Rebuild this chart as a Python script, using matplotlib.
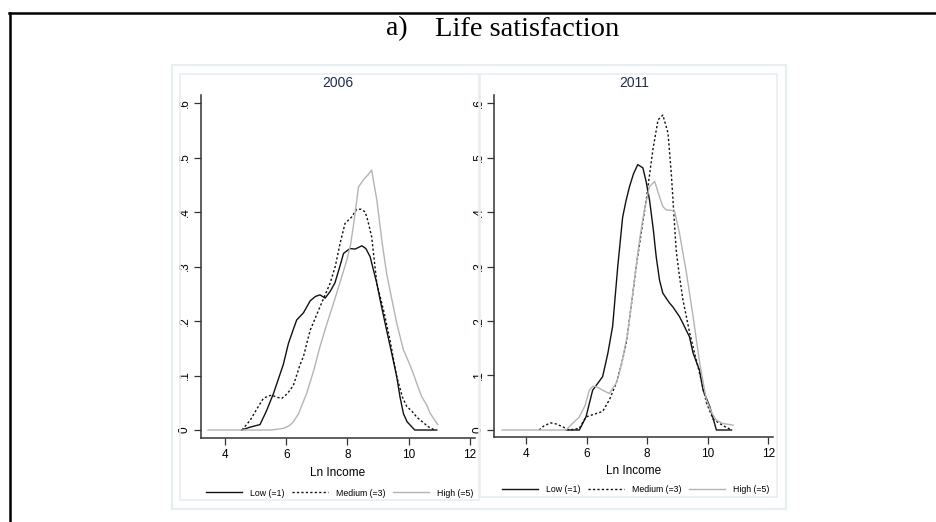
import matplotlib
matplotlib.use("Agg")
import matplotlib.pyplot as plt
from matplotlib.lines import Line2D
from matplotlib.patches import Rectangle

# ---------------- data ----------------
years = ["2006", "2011"]
series_labels = ["Low (=1)", "Medium (=3)", "High (=5)"]
x_ticks = [4, 6, 8, 10, 12]
y_ticks = [0, 0.1, 0.2, 0.3, 0.4, 0.5, 0.6]
y_ticklabels = ["0", ".1", ".2", ".3", ".4", ".5", ".6"]

x_low06 = [4.54, 4.8, 5.14, 5.35, 5.58, 5.9, 6.07, 6.23, 6.34, 6.56, 6.78, 6.95, 7.1, 7.27,
           7.43, 7.59, 7.75, 7.87, 8.08, 8.25, 8.47, 8.6, 8.74, 8.96, 9.1, 9.28, 9.45, 9.61,
           9.72, 9.83, 9.95, 10.2, 10.5, 10.92]
y_low06 = [0.0, 0.005, 0.01, 0.035, 0.067, 0.12, 0.159, 0.185, 0.202, 0.215, 0.237, 0.245,
           0.248, 0.242, 0.254, 0.27, 0.30, 0.324, 0.333, 0.332, 0.338, 0.333, 0.318, 0.269,
           0.23, 0.183, 0.14, 0.098, 0.06, 0.03, 0.015, 0.0, 0.0, 0.0]

x_med06 = [4.55, 4.82, 5.05, 5.25, 5.4, 5.52, 5.7, 5.85, 6.0, 6.12, 6.23, 6.45, 6.56, 6.78,
           7.1, 7.43, 7.6, 7.76, 7.92, 8.14, 8.3, 8.45, 8.58, 8.66, 8.79, 8.96, 9.2, 9.39,
           9.61, 9.8, 9.94, 10.1, 10.26, 10.45, 10.64, 10.85]
y_med06 = [0.0, 0.018, 0.04, 0.058, 0.062, 0.064, 0.06, 0.058, 0.065, 0.073, 0.082, 0.12,
           0.135, 0.183, 0.226, 0.269, 0.30, 0.343, 0.379, 0.391, 0.405, 0.405, 0.40, 0.385,
           0.355, 0.269, 0.215, 0.165, 0.098, 0.06, 0.043, 0.035, 0.024, 0.015, 0.006, 0.0]

x_high06 = [3.44, 4.5, 5.5, 5.9, 6.1, 6.23, 6.4, 6.67, 6.9, 7.1, 7.3, 7.54, 7.75, 7.98, 8.1,
            8.19, 8.36, 8.52, 8.65, 8.79, 8.96, 9.12, 9.28, 9.45, 9.61, 9.83, 10.0, 10.15,
            10.3, 10.43, 10.6, 10.7, 10.95]
y_high06 = [0.0, 0.0, 0.0, 0.003, 0.008, 0.015, 0.03, 0.068, 0.11, 0.153, 0.19, 0.232, 0.27,
            0.312, 0.34, 0.373, 0.446, 0.459, 0.467, 0.477, 0.422, 0.349, 0.287, 0.24, 0.196,
            0.147, 0.125, 0.104, 0.08, 0.061, 0.045, 0.031, 0.01]

x_low11 = [5.32, 5.76, 5.98, 6.2, 6.4, 6.53, 6.7, 6.86, 7.03, 7.19, 7.3, 7.42, 7.55, 7.69,
           7.86, 7.97, 8.08, 8.2, 8.3, 8.41, 8.52, 8.74, 8.85, 9.07, 9.18, 9.4, 9.52, 9.73,
           9.85, 10.07, 10.29, 10.79]
y_low11 = [0.0, 0.0, 0.024, 0.073, 0.088, 0.098, 0.14, 0.19, 0.30, 0.39, 0.42, 0.447, 0.47,
           0.487, 0.481, 0.455, 0.422, 0.37, 0.318, 0.275, 0.251, 0.233, 0.226, 0.208, 0.196,
           0.171, 0.141, 0.11, 0.073, 0.043, 0.0, 0.0]

x_med11 = [4.43, 4.6, 4.82, 5.0, 5.2, 5.43, 5.76, 5.98, 6.2, 6.53, 6.75, 6.98, 7.15, 7.31,
           7.53, 7.64, 7.8, 7.97, 8.19, 8.36, 8.52, 8.69, 8.8, 8.88, 8.96, 9.05, 9.18, 9.4,
           9.55, 9.73, 9.96, 10.18, 10.51, 10.79]
y_med11 = [0.0, 0.008, 0.013, 0.011, 0.006, 0.0, 0.003, 0.024, 0.028, 0.034, 0.055, 0.086,
           0.12, 0.159, 0.251, 0.30, 0.36, 0.422, 0.514, 0.569, 0.578, 0.545, 0.47, 0.40,
           0.33, 0.29, 0.24, 0.18, 0.145, 0.105, 0.05, 0.02, 0.008, 0.0]

x_high11 = [3.21, 4.5, 5.32, 5.5, 5.76, 5.95, 6.09, 6.2, 6.31, 6.53, 6.75, 6.98, 7.08, 7.19,
            7.36, 7.58, 7.75, 7.91, 8.08, 8.25, 8.41, 8.52, 8.63, 8.8, 8.91, 9.07, 9.3, 9.52,
            9.74, 9.96, 10.15, 10.29, 10.5, 10.84]
y_high11 = [0.0, 0.0, 0.0, 0.01, 0.024, 0.045, 0.073, 0.08, 0.08, 0.073, 0.067, 0.086, 0.104,
            0.13, 0.178, 0.275, 0.349, 0.404, 0.447, 0.456, 0.428, 0.41, 0.404, 0.403, 0.401,
            0.361, 0.288, 0.208, 0.122, 0.055, 0.03, 0.018, 0.012, 0.009]

panels = [
    (years[0], [(x_low06, y_low06), (x_med06, y_med06), (x_high06, y_high06)]),
    (years[1], [(x_low11, y_low11), (x_med11, y_med11), (x_high11, y_high11)]),
]

# ---------------- styles ----------------
styles = [
    dict(color="#111111", lw=1.0, ls="-"),
    dict(color="#111111", lw=1.0, ls=(0, (1.6, 1.6))),
    dict(color="#b4b4b4", lw=1.0, ls="-"),
]
W, H = 936, 522
fig = plt.figure(figsize=(W / 100, H / 100), dpi=100)
plt.rcParams["font.family"] = ["Liberation Sans", "DejaVu Sans"]


def fx(px):
    return px / W


def fy(py):
    return 1 - py / H


frame_c = "#e6eef1"
fig.patches.append(Rectangle((fx(172), fy(509)), fx(786) - fx(172), fy(65) - fy(509),
                             transform=fig.transFigure, fill=False, ec=frame_c, lw=1.6))
fig.patches.append(Rectangle((fx(180), fy(500)), fx(479) - fx(180), fy(74) - fy(500),
                             transform=fig.transFigure, fill=False, ec=frame_c, lw=1.2))
fig.patches.append(Rectangle((fx(480), fy(497)), fx(777) - fx(480), fy(74) - fy(497),
                             transform=fig.transFigure, fill=False, ec=frame_c, lw=1.2))

fig.add_artist(Line2D([fx(9), 1.0], [fy(12.5), fy(12.5)], transform=fig.transFigure,
                      color="black", lw=1.8))
fig.add_artist(Line2D([fx(10), fx(10)], [fy(12.5), 0.0], transform=fig.transFigure,
                      color="black", lw=1.8))

fig.text(fx(397), fy(29), "a)", ha="center", va="center", fontsize=20,
         family=["Liberation Serif", "DejaVu Serif"])
fig.text(fx(527), fy(29), "Life satisfaction", ha="center", va="center", fontsize=20.5,
         family=["Liberation Serif", "DejaVu Serif"])

axes_px = [
    (200.7, 475.0, 95.0, 438.3, (3.2, 12.17), -0.0152, 493),
    (494.3, 773.3, 95.0, 436.7, (2.95, 12.17), -0.0123, 490),
]

for (year, curves), (x0, x1, y0, y1, xlim, ybot, leg_y) in zip(panels, axes_px):
    ax = fig.add_axes([fx(x0), fy(y1), fx(x1) - fx(x0), fy(y0) - fy(y1)])
    handles = []
    for (xs, ys), st, lab in zip(curves, styles, series_labels):
        h, = ax.plot(xs, ys, label=lab, solid_joinstyle="round", **st)
        handles.append(h)
    ax.set_xlim(*xlim)
    ax.set_ylim(ybot, 0.6147)
    ax.set_xticks(x_ticks)
    ax.set_yticks(y_ticks)
    ax.set_yticklabels(y_ticklabels, rotation=90, va="center")
    for s in ["top", "right"]:
        ax.spines[s].set_visible(False)
    for s in ["left", "bottom"]:
        ax.spines[s].set_color("#333333")
        ax.spines[s].set_linewidth(1.1)
    ax.tick_params(axis="both", direction="out", length=5, width=0.9, color="#333333",
                   labelsize=8.5, pad=2)
    ax.tick_params(axis="x", pad=3)
    ax.set_xlabel("Ln Income", fontsize=8.5, labelpad=4)
    ax.set_title(year, fontsize=10, color="#1f2d4d", pad=6)
    ax.patch.set_alpha(0)
    cx = (x0 + x1) / 2
    fig.legend(handles=handles, labels=series_labels, loc="center",
               bbox_to_anchor=(fx(cx + 2), fy(leg_y)), ncol=3, frameon=False,
               fontsize=6.3, handlelength=4.1, handletextpad=0.9, columnspacing=0.9,
               borderaxespad=0)

fig.savefig("out.png", dpi=100, facecolor="white")
